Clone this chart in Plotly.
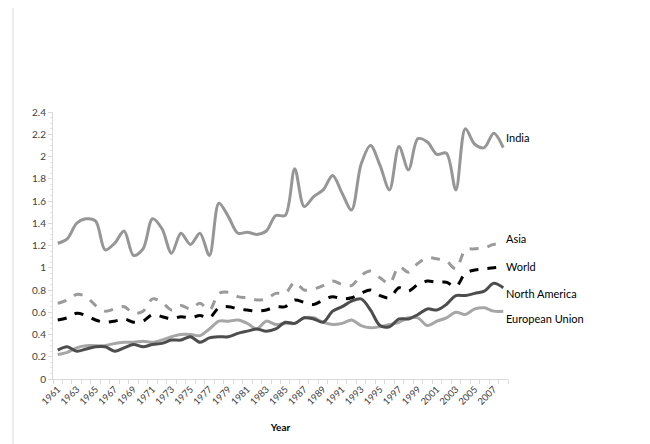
import plotly.graph_objects as go

years = list(range(1961, 2009))

india = [1.22, 1.26, 1.40, 1.44, 1.42, 1.16, 1.22, 1.33, 1.11, 1.17,
         1.44, 1.35, 1.13, 1.31, 1.21, 1.31, 1.11, 1.58, 1.46, 1.31,
         1.32, 1.30, 1.33, 1.47, 1.47, 1.89, 1.55, 1.64, 1.70, 1.83,
         1.67, 1.52, 1.93, 2.10, 1.92, 1.70, 2.09, 1.88, 2.16, 2.13,
         2.02, 2.03, 1.70, 2.25, 2.11, 2.08, 2.21, 2.08]

asia = [0.68, 0.71, 0.76, 0.74, 0.66, 0.61, 0.63, 0.65, 0.59, 0.61,
        0.72, 0.69, 0.62, 0.66, 0.63, 0.68, 0.62, 0.77, 0.78, 0.74,
        0.73, 0.71, 0.72, 0.77, 0.77, 0.87, 0.80, 0.81, 0.84, 0.88,
        0.85, 0.84, 0.93, 0.97, 0.91, 0.86, 1.01, 0.96, 1.04, 1.09,
        1.08, 1.06, 0.99, 1.16, 1.17, 1.18, 1.21, 1.22]

world = [0.53, 0.55, 0.59, 0.57, 0.53, 0.51, 0.52, 0.54, 0.51, 0.52,
         0.58, 0.56, 0.54, 0.56, 0.55, 0.57, 0.55, 0.64, 0.65, 0.63,
         0.62, 0.61, 0.62, 0.65, 0.65, 0.71, 0.69, 0.67, 0.71, 0.74,
         0.72, 0.73, 0.77, 0.80, 0.75, 0.73, 0.82, 0.79, 0.85, 0.88,
         0.87, 0.87, 0.83, 0.95, 0.98, 0.99, 1.00, 1.01]

north_america = [0.26, 0.29, 0.25, 0.27, 0.29, 0.29, 0.25, 0.28, 0.31, 0.29,
                 0.31, 0.32, 0.35, 0.35, 0.38, 0.33, 0.37, 0.38, 0.38, 0.41,
                 0.43, 0.45, 0.43, 0.45, 0.51, 0.50, 0.55, 0.54, 0.51, 0.61,
                 0.65, 0.70, 0.72, 0.62, 0.48, 0.47, 0.54, 0.54, 0.58, 0.63,
                 0.62, 0.67, 0.75, 0.75, 0.77, 0.79, 0.86, 0.82]

european_union = [0.22, 0.24, 0.28, 0.30, 0.30, 0.30, 0.32, 0.33, 0.33, 0.34,
                  0.33, 0.35, 0.38, 0.40, 0.40, 0.39, 0.45, 0.52, 0.52, 0.53,
                  0.50, 0.45, 0.52, 0.49, 0.50, 0.50, 0.55, 0.55, 0.51, 0.49,
                  0.50, 0.53, 0.48, 0.46, 0.47, 0.49, 0.51, 0.55, 0.55, 0.48,
                  0.52, 0.55, 0.60, 0.58, 0.63, 0.64, 0.61, 0.61]

series_names = ["India", "Asia", "World", "North America", "European Union"]
label_y = [2.17, 1.26, 1.01, 0.77, 0.54]

ytick_vals = [0, 0.2, 0.4, 0.6, 0.8, 1, 1.2, 1.4, 1.6, 1.8, 2, 2.2, 2.4]
ytick_text = ["0", "0.2", "0.4", "0.6", "0.8", "1", "1.2", "1.4", "1.6", "1.8", "2", "2.2", "2.4"]
xtick_vals = list(range(1961, 2008, 2))

styles = [
    dict(color="#969696", dash="solid"),
    dict(color="#9a9a9a", dash="dash"),
    dict(color="#000000", dash="dash"),
    dict(color="#4d4d4d", dash="solid"),
    dict(color="#a6a6a6", dash="solid"),
]

data = [india, asia, world, north_america, european_union]

L, R, T, B = 45, 150, 104, 73
W, H = 650, 444
pw, ph = W - L - R, H - T - B

fig = go.Figure()
for idx in [4, 3, 2, 1, 0]:
    fig.add_trace(go.Scatter(
        x=years, y=data[idx], mode="lines", name=series_names[idx],
        line=dict(color=styles[idx]["color"], dash=styles[idx]["dash"],
                  width=3, shape="spline", smoothing=0.9),
        showlegend=False, hoverinfo="skip"))

font_family = "Lato, Open Sans, Liberation Sans, sans-serif"

for name, yv in zip(series_names, label_y):
    fig.add_annotation(x=1.0, xref="paper", y=yv, yref="y", text=name,
                       showarrow=False, xanchor="left", yanchor="middle",
                       xshift=-4, font=dict(size=11, color="#000000", family=font_family))

# chart-area frame (left and bottom edges visible)
fig.add_shape(type="rect", xref="paper", yref="paper",
              x0=(5 - L) / pw, x1=(660 - L) / pw,
              y0=(H - B - 437) / ph, y1=(H - B + 20) / ph,
              line=dict(color="#d9d9d9", width=1), fillcolor="rgba(0,0,0,0)", layer="below")

fig.update_layout(
    width=W, height=H,
    margin=dict(l=L, r=R, t=T, b=B),
    paper_bgcolor="white", plot_bgcolor="white",
    font=dict(family=font_family, size=10, color="#404040"),
    xaxis=dict(
        range=[1960.5, 2008.5], tickmode="array", tickvals=xtick_vals,
        ticktext=[str(v) for v in xtick_vals], tickangle=-45,
        showgrid=False, zeroline=False, showline=True, linecolor="#d9d9d9",
        ticks="", tickfont=dict(size=9.5, color="#404040"),
        minor=dict(tickvals=[1960.5 + k for k in range(49)], ticks="outside",
                   ticklen=4, tickcolor="#d9d9d9", showgrid=False),
        title=dict(text="<b>Year</b>", font=dict(size=10, color="#000000"), standoff=17),
    ),
    yaxis=dict(
        range=[0, 2.4], tickmode="array", tickvals=ytick_vals, ticktext=ytick_text,
        showgrid=False, zeroline=False, showline=True, linecolor="#d9d9d9",
        ticks="outside", ticklen=4, tickcolor="#d9d9d9",
        tickfont=dict(size=10, color="#404040"),
        minor=dict(dtick=0.05, ticks="outside", ticklen=2, tickcolor="#e6e6e6", showgrid=False),
    ),
)

fig.write_html("out.html")
